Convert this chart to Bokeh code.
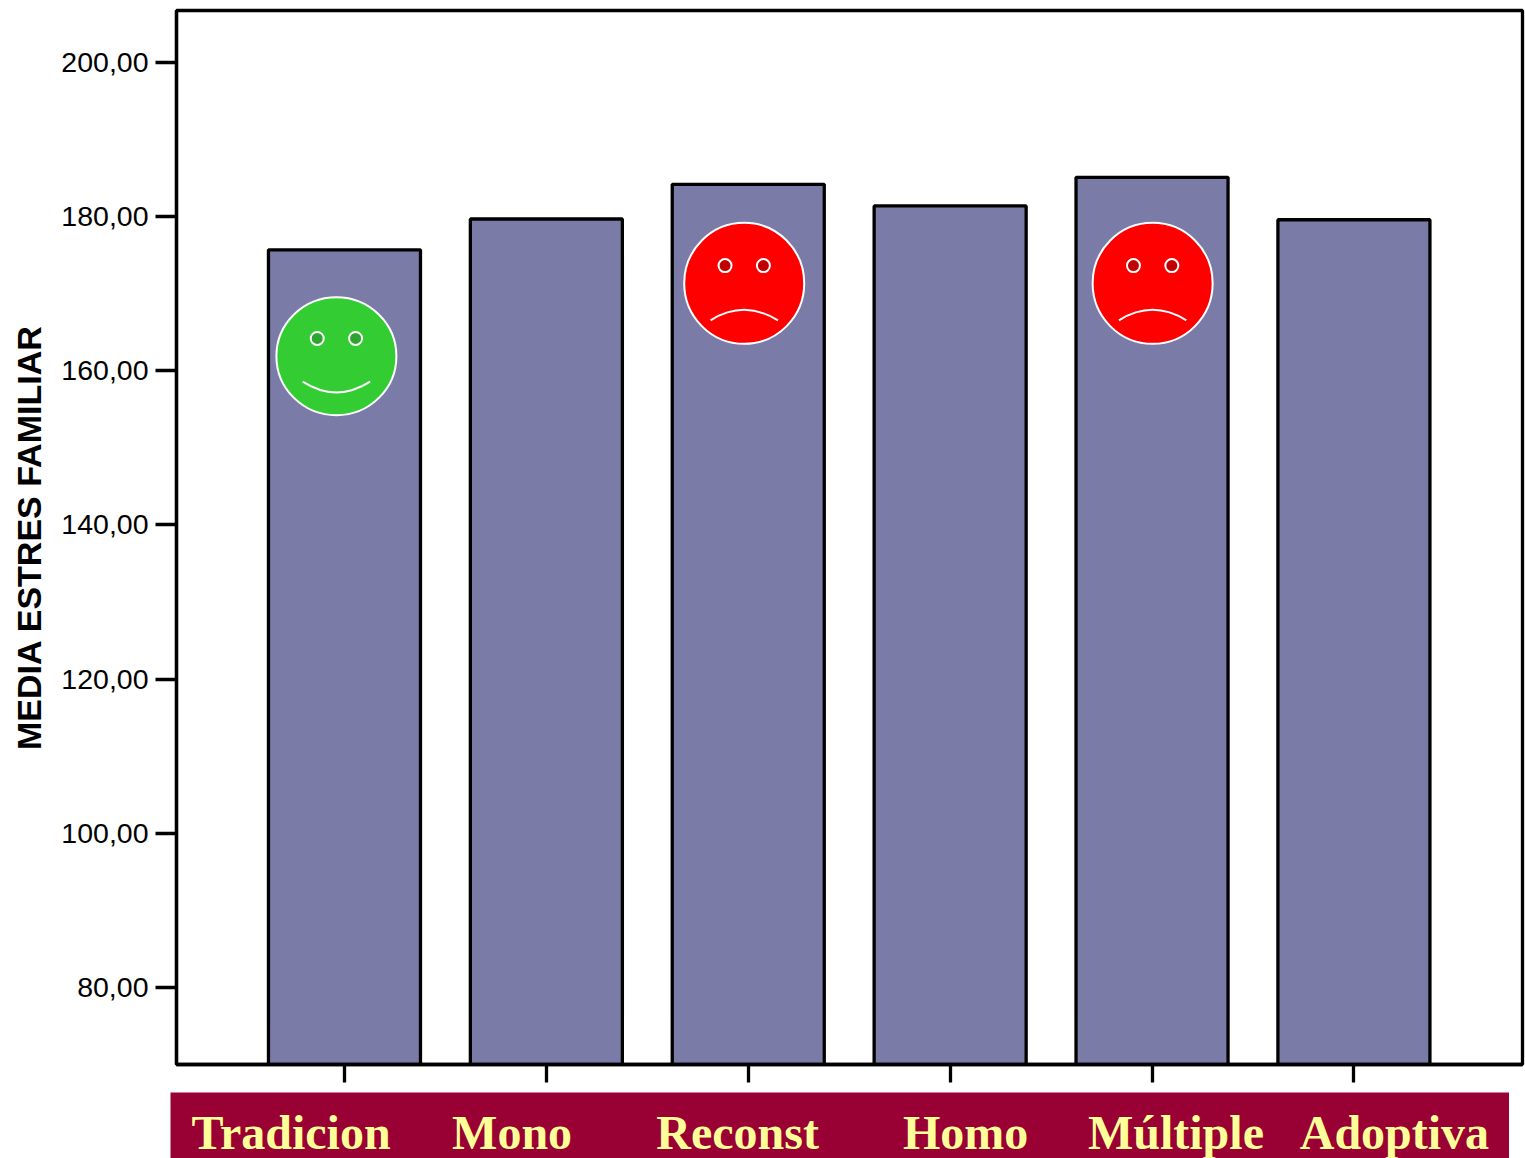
from bokeh.plotting import figure
from bokeh.layouts import column, row
from bokeh.models import Range1d, FixedTicker, Spacer
from bokeh.core.properties import value
from bokeh.embed import file_html
from bokeh.resources import INLINE

# ---- data -------------------------------------------------------------
categories = ["Tradicion", "Mono", "Reconst", "Homo", "Múltiple", "Adoptiva"]
media_estres = [175.7, 179.7, 184.2, 181.4, 185.1, 179.6]
y_ticks = [80, 100, 120, 140, 160, 180, 200]
y_tick_labels = ["80,00", "100,00", "120,00", "140,00", "160,00", "180,00", "200,00"]
y_title = "MEDIA ESTRES FAMILIAR"

# ---- layout (data units) ----------------------------------------------
label_x = [-0.265, 0.83, 1.947, 3.076, 4.118, 5.2]
face_x = [-0.04, 1.98, 4.003]
face_y = [161.9, 171.35, 171.35]
face_h = [118, 121, 121]
face_fill = ["#33cc33", "#ff0000", "#ff0000"]
eye_fill = ["#2ea32e", "#c00000", "#c00000"]
mouth_dy0 = [-3.3, -4.8, -4.8]    # ends of the mouth relative to the centre
mouth_dyc = [-6.1, -2.08, -2.08]  # control point relative to the centre

BAR = "#7b7ba8"
MAROON = "#990033"
YELLOW = "#ffff99"
STROKE = 3.3

p = figure(width=1525, height=1092, output_backend="svg", toolbar_location=None,
           x_range=Range1d(-0.832, 5.835), y_range=Range1d(70, 206.75),
           min_border_left=176, min_border_right=3, min_border_top=10, min_border_bottom=28,
           background_fill_color="white", border_fill_color="white")
p.grid.visible = False
p.outline_line_color = "black"
p.outline_line_width = STROKE

p.vbar(x=list(range(len(categories))), top=media_estres, bottom=70, width=0.753,
       fill_color=BAR, line_color="black", line_width=STROKE)

# y axis
ya = p.yaxis[0]
ya.ticker = FixedTicker(ticks=y_ticks)
ya.major_label_overrides = dict(zip(y_ticks, y_tick_labels))
ya.major_label_text_font = "Liberation Sans"
ya.major_label_text_font_size = "28.5px"
ya.major_label_text_color = "black"
ya.major_label_standoff = 7
ya.major_tick_out = 21
ya.major_tick_in = 0
ya.major_tick_line_width = STROKE
ya.major_tick_line_color = "black"
ya.minor_tick_line_color = None
ya.axis_line_width = STROKE
ya.axis_line_color = "black"
ya.axis_label = y_title
ya.axis_label_text_font = "Liberation Sans"
ya.axis_label_text_font_style = "bold"
ya.axis_label_text_font_size = "34px"
ya.axis_label_text_color = "black"
ya.axis_label_standoff = 10

# x axis: ticks only, the labels sit in the band below
xa = p.xaxis[0]
xa.ticker = FixedTicker(ticks=list(range(len(categories))))
xa.major_label_text_font_size = "0px"
xa.major_label_text_color = None
xa.major_tick_out = 18
xa.major_tick_in = 0
xa.major_tick_line_width = STROKE
xa.major_tick_line_color = "black"
xa.minor_tick_line_color = None
xa.axis_line_width = STROKE
xa.axis_line_color = "black"

# faces
p.ellipse(x=face_x, y=face_y, width=120, height=face_h, width_units="screen", height_units="screen",
          fill_color=face_fill, line_color="white", line_width=2)
eye_dx = 0.095
eye_dy = 2.3
for sign in (-1, 1):
    p.ellipse(x=[x + sign * eye_dx for x in face_x], y=[y + eye_dy for y in face_y],
              width=13, height=13, width_units="screen", height_units="screen",
              fill_color=eye_fill, line_color="white", line_width=2)
mouth_dx = 0.167
p.quadratic(x0=[x - mouth_dx for x in face_x], x1=[x + mouth_dx for x in face_x],
            y0=[y + d for y, d in zip(face_y, mouth_dy0)],
            y1=[y + d for y, d in zip(face_y, mouth_dy0)],
            cx=face_x, cy=[y + d for y, d in zip(face_y, mouth_dyc)],
            line_color="white", line_width=2)

# band with the category names: a second figure under the chart
band = figure(width=1339, height=66, output_backend="svg", toolbar_location=None,
              x_range=Range1d(-0.862, 5.77), y_range=Range1d(0, 66),
              x_axis_location=None, y_axis_location=None,
              min_border=0, background_fill_color=MAROON, border_fill_color=MAROON,
              outline_line_color=None)
band.grid.visible = False
band.text(x=label_x, y=[26] * len(categories), text=categories,
          text_align="center", text_baseline="alphabetic",
          text_font=value("Liberation Serif"), text_font_style="bold",
          text_font_size="48px", text_color=YELLOW)

layout = column(p, row(Spacer(width=170, height=66), band, spacing=0), spacing=0)
open("out.html", "w").write(file_html(layout, INLINE))
